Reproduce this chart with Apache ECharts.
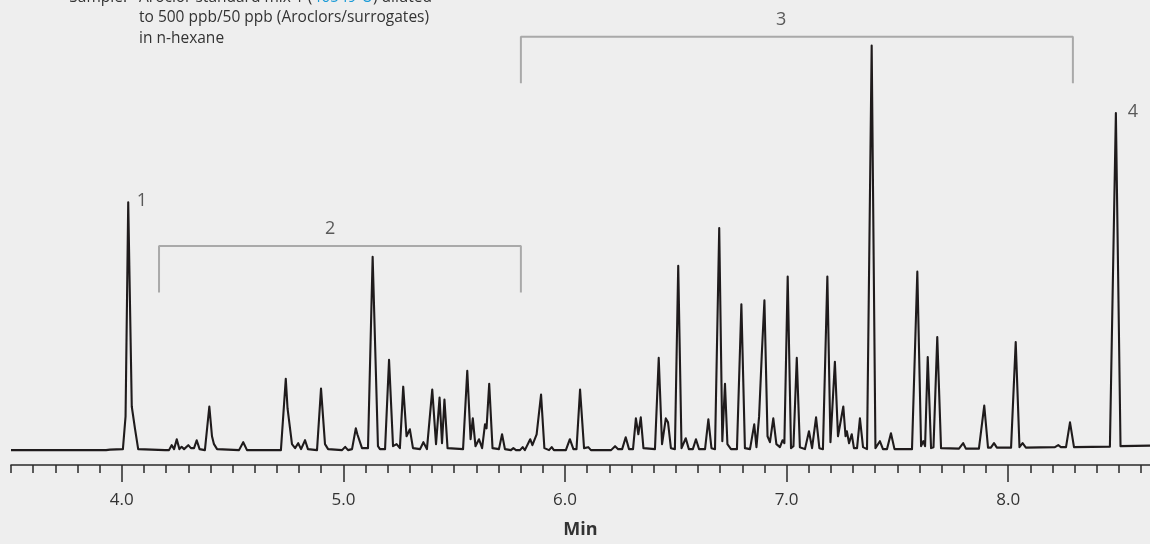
<!DOCTYPE html>
<html>
<head>
<meta charset="utf-8">
<script src="https://cdn.jsdelivr.net/npm/echarts@6/dist/echarts.min.js"></script>
<style>
html,body{margin:0;padding:0;background:#eeeeee;}
#c{width:1150px;height:544px;}
</style>
</head>
<body>
<div id="c"></div>
<script>
// Retention time (min) vs detector signal (arbitrary units)
var trace = [
[3.500,0],[3.929,0],[3.937,-1.5],[3.947,0.5],
[4.005,1],[4.017,34],[4.029,250],[4.045,44],[4.060,21],[4.074,1],
[4.195,0],[4.213,0],[4.225,5],[4.236,1],[4.248,11],[4.260,1],[4.270,3.3],[4.281,1],[4.300,5],[4.312,2],[4.326,2],[4.338,10],[4.351,1],
[4.375,0],[4.395,44],[4.407,14],[4.416,6],[4.430,1],
[4.529,0],[4.548,8],[4.565,0],
[4.718,0],[4.740,72],[4.748,42],[4.756,44],[4.768,6],[4.782,2],[4.796,7],[4.809,1],[4.827,10],[4.840,1],
[4.881,0],[4.899,62],[4.917,6],[4.931,1],
[4.994,0],[5.008,3.3],[5.021,0],
[5.039,1],[5.056,22],[5.063,16],[5.070,16],[5.084,2],
[5.111,2],[5.132,195],[5.156,4],[5.165,1],
[5.188,1],[5.206,91],[5.224,4],[5.240,6],[5.255,2],[5.270,64],[5.285,14],[5.300,21],[5.314,2],
[5.346,1],[5.361,8],[5.377,1],
[5.386,1],[5.401,61],[5.418,6],[5.434,53],[5.445,7],[5.456,51],[5.470,2],
[5.540,1],[5.559,80],[5.574,11],[5.584,32],[5.596,4],[5.612,11],[5.626,2],[5.639,26],[5.646,22],[5.658,67],[5.673,2],
[5.702,1],[5.716,16],[5.729,1],
[5.756,0],[5.767,2],[5.779,0],
[5.797,0],[5.809,3],[5.819,0],
[5.828,1],[5.843,11],[5.853,5],[5.872,16],[5.892,56],[5.907,2],
[5.928,0],[5.940,3],[5.950,0],
[6.004,0],[6.022,11],[6.038,1],[6.052,1],[6.068,61],[6.086,2],[6.105,3],[6.117,0],
[6.208,0],[6.226,4],[6.240,1],[6.258,1],[6.274,13],[6.289,1],
[6.307,1],[6.320,32],[6.331,16],[6.342,33],[6.354,2],
[6.406,1],[6.423,93],[6.438,6],[6.455,32],[6.465,28],[6.478,2],
[6.496,1],[6.511,186],[6.526,2],[6.545,12],[6.559,1],
[6.577,1],[6.591,11],[6.605,1],
[6.632,1],[6.647,31],[6.661,2],
[6.677,1],[6.696,224],[6.710,9],[6.722,67],[6.733,6],[6.749,1],
[6.776,1],[6.796,147],[6.812,2],
[6.835,1],[6.854,26],[6.864,3],[6.876,34],[6.888,96],[6.900,151],[6.914,14],[6.925,8],[6.940,32],[6.954,6],[6.970,3],[6.982,10],[6.990,7],[7.005,175],[7.020,2],[7.031,4],[7.046,93],[7.060,3],
[7.083,1],[7.101,19],[7.115,2],[7.133,33],[7.148,2],
[7.164,1],[7.184,175],[7.198,8],[7.218,89],[7.232,14],[7.241,12],[7.256,44],[7.266,14],[7.272,19],[7.282,7],[7.294,16],[7.304,2],
[7.318,2],[7.331,32],[7.345,3],
[7.363,1],[7.384,408],[7.401,2],[7.421,9],[7.435,1],
[7.453,1],[7.471,17],[7.487,1],
[7.566,1],[7.590,180],[7.607,4],[7.617,9],[7.625,4],[7.637,94],[7.652,2],[7.663,3],[7.680,114],[7.697,2],
[7.778,1.5],[7.797,7],[7.809,1.5],
[7.868,1.5],[7.892,45],[7.909,2.5],[7.922,2.5],[7.936,7],[7.949,2.5],
[8.013,2.5],[8.034,109],[8.051,3],[8.065,7],[8.080,2.5],
[8.211,3],[8.226,5],[8.238,3],
[8.261,3],[8.279,28],[8.297,3],
[8.459,3.5],[8.486,340],[8.507,4],[8.640,4.5]
];

// Peak-group brackets (min, signal)
var bracket2 = [[4.168,159],[4.168,206],[5.801,206],[5.801,159]];
var bracket3 = [[5.801,370],[5.801,417],[8.292,417],[8.292,370]];

// Peak labels [min, signal, text]
var peakLabels = [[4.091,251,'1'],[4.940,223,'2'],[6.975,434,'3'],[8.563,341,'4']];

// Axis ticks
var majorTicks = [4.0,5.0,6.0,7.0,8.0];
var minorTicks = [3.5,3.6,3.7,3.8,3.9,4.0,4.1,4.2,4.3,4.4,4.5,4.6,4.7,4.8,4.9,5.0,5.1,5.2,5.3,5.4,5.5,5.6,5.7,5.8,5.9,6.0,6.1,6.2,6.3,6.4,6.5,6.6,6.7,6.8,6.9,7.0,7.1,7.2,7.3,7.4,7.5,7.6,7.7,7.8,7.9,8.0,8.1,8.2,8.3,8.4,8.5,8.6];

var xMin = 3.5, xMax = 8.64;
var txt = '#333333';
var font = '"Open Sans", "Noto Sans", sans-serif';

var chart = echarts.init(document.getElementById('c'), null, {renderer:'canvas'});
chart.setOption({
  backgroundColor: '#eeeeee',
  animation: false,
  grid: {left: 11, right: 0, top: 0, bottom: 75, containLabel: false},
  xAxis: [{
    type: 'value', min: xMin, max: xMax, position: 'bottom',
    name: 'Min', nameLocation: 'middle', nameGap: 56,
    nameTextStyle: {fontFamily: font, fontSize: 18, fontWeight: 'bold', color: txt},
    axisLine: {onZero: false, lineStyle: {color: '#2a2a2a', width: 1.6}},
    axisTick: {show: true, length: 17, customValues: majorTicks, lineStyle: {color: '#2a2a2a', width: 1.5}},
    axisLabel: {customValues: majorTicks, margin: 27, fontFamily: font, fontSize: 17, color: txt,
      formatter: function(v){ return v.toFixed(1); }},
    splitLine: {show: false}
  },{
    type: 'value', min: xMin, max: xMax, position: 'bottom', offset: 0,
    axisLine: {show: false, onZero: false},
    axisTick: {show: true, length: 8, customValues: minorTicks, lineStyle: {color: '#2a2a2a', width: 1.5}},
    axisLabel: {show: false},
    splitLine: {show: false}
  }],
  yAxis: {type: 'value', min: -15, max: 454, show: false, splitLine: {show: false}},
  series: [{
    type: 'line', data: trace, xAxisIndex: 0, showSymbol: false, symbol: 'none',
    lineStyle: {color: '#1f1b1c', width: 2.1, join: 'round'}, z: 3
  },{
    type: 'line', data: bracket2, showSymbol: false, symbol: 'none',
    lineStyle: {color: '#a9a9a9', width: 2}
  },{
    type: 'line', data: bracket3, showSymbol: false, symbol: 'none',
    lineStyle: {color: '#a9a9a9', width: 2}
  },{
    type: 'scatter', data: peakLabels, symbolSize: 1,
    itemStyle: {color: 'rgba(0,0,0,0)'},
    label: {show: true, position: 'inside', fontFamily: font, fontSize: 18, color: txt,
      formatter: function(p){ return p.data[2]; }}
  }],
  graphic: [
    {type: 'text', x: 127, y: -2.5, style: {text: 'Sample:', align: 'right', verticalAlign: 'middle', font: '15.5px ' + font, fill: txt}},
    {type: 'text', x: 139, y: -2.5, style: {
      text: '{a|Aroclor standard mix 1 (}{b|46549-U}{a|) diluted}', verticalAlign: 'middle',
      rich: {a: {font: '15.5px ' + font, fill: txt, color: txt}, b: {font: '15.5px ' + font, color: '#1a9bd7', fill: '#1a9bd7'}}
    }},
    {type: 'text', x: 139, y: 17.5, style: {text: 'to 500 ppb/50 ppb (Aroclors/surrogates)', verticalAlign: 'middle', font: '15.5px ' + font, fill: txt}},
    {type: 'text', x: 139, y: 39, style: {text: 'in n-hexane', verticalAlign: 'middle', font: '15.5px ' + font, fill: txt}}
  ]
});
</script>
</body>
</html>
